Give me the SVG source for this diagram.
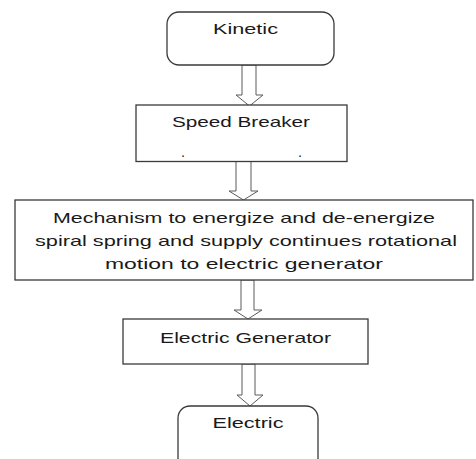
<svg xmlns="http://www.w3.org/2000/svg" width="476" height="459" viewBox="0 0 476 459">
<style>
.box{fill:#fff;stroke:#3a3a3a;stroke-width:1.3}
.arr{fill:#fff;stroke:#5a5a5a;stroke-width:1}
.t{font-family:"Liberation Sans",Arial,sans-serif;font-size:14.5px;fill:#1a1a1a;text-anchor:middle}
</style>
<rect width="476" height="459" fill="#fff"/>
<g id="connectors">
<polygon class="arr" points="242,65 256,65 256,95 263,95 249.5,106 236,95 242,95"/>
<polygon class="arr" points="236,161.5 251,161.5 251,191 258,191 243.5,200 229,191 236,191"/>
<polygon class="arr" points="241,280 254,280 254,310 262,310 248,319 234,310 241,310"/>
<polygon class="arr" points="242,364 255,364 255,395 263,395 250,406 237,395 242,395"/>
</g>
<g id="kinetic">
<rect class="box" x="167" y="12" width="167" height="53" rx="12"/>
<text class="t" x="245.5" y="34" textLength="65" lengthAdjust="spacingAndGlyphs">Kinetic</text>
</g>
<g id="speed-breaker">
<rect class="box" x="136" y="105" width="211" height="56.5"/>
<text class="t" x="241" y="127" textLength="138" lengthAdjust="spacingAndGlyphs">Speed Breaker</text>
<text class="t" x="183" y="157">.</text>
<text class="t" x="300" y="157">.</text>
</g>
<g id="mechanism">
<rect class="box" x="15" y="200" width="458" height="80"/>
<text class="t" x="244" y="223" textLength="382" lengthAdjust="spacingAndGlyphs">Mechanism to energize and de-energize</text>
<text class="t" x="246" y="246" textLength="422" lengthAdjust="spacingAndGlyphs">spiral spring and supply continues rotational</text>
<text class="t" x="244" y="269" textLength="278" lengthAdjust="spacingAndGlyphs">motion to electric generator</text>
</g>
<g id="electric-generator">
<rect class="box" x="123" y="319" width="245" height="45"/>
<text class="t" x="245.5" y="342.5" textLength="171" lengthAdjust="spacingAndGlyphs">Electric Generator</text>
</g>
<g id="electric">
<rect class="box" x="178" y="406" width="140" height="80" rx="12"/>
<text class="t" x="248" y="428" textLength="71" lengthAdjust="spacingAndGlyphs">Electric</text>
</g>
</svg>
